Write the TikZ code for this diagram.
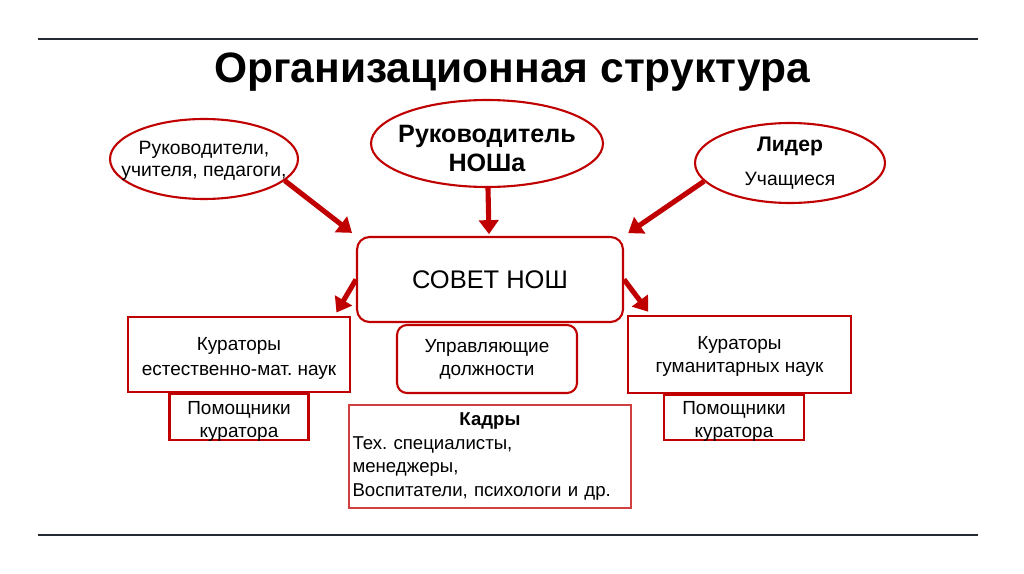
\documentclass[tikz,border=0pt]{standalone}
\usepackage{fontspec}
\setmainfont{Liberation Sans}
\frenchspacing
\usetikzlibrary{shapes.geometric, arrows.meta, positioning}
\definecolor{boxred}{HTML}{C00000}
\definecolor{thinred}{HTML}{D04040}
\definecolor{rulegray}{HTML}{262B33}

\begin{document}
\begin{tikzpicture}[
		x=0.02cm, y=-0.02cm,
		% pixel-like coordinates, y grows downwards
		redarrow/.style={-{Triangle[length=8pt, width=11pt]}, line width=2.9pt, boxred},
		oval/.style={ellipse, draw=boxred, line width=1.2pt, align=center, inner xsep=-1cm, inner ysep=-0.3cm, font=\fontsize{11}{13}\selectfont},
		council/.style={rectangle, draw=boxred, line width=1.2pt, rounded corners=0.25cm, align=center},
		curbox/.style={rectangle, draw=boxred, line width=1.2pt, align=center, inner xsep=0pt, inner ysep=-0.2cm, font=\fontsize{10.8}{13}\selectfont},
		helpbox/.style={curbox, text height=25.8pt, text depth=3pt},
		rulerline/.style={line width=1.2pt, rulegray}
		]
		
		\useasboundingbox (0,0) rectangle (1024,574);
		\draw[rulerline] (38,39) -- (978,39);
		\draw[rulerline] (38,535) -- (978,535);
		
		\node[font=\bfseries\fontsize{24.2}{28}\selectfont] (title) at (512,72) {Организационная структура};
		
		% top level
		\node[oval, minimum width=3.76cm, minimum height=1.6cm, text height=23.4pt, text depth=3pt] (teachers) at (204,159) {Руководители,\\учителя, педагоги,};
		\node[oval, minimum width=4.64cm, minimum height=1.74cm, text height=35.4pt, text depth=3pt, font=\bfseries\fontsize{14.3}{16.5}\selectfont] (head) at (487,143.5) {Руководитель\\НОШа};
		\node[oval, minimum width=3.8cm, minimum height=1.6cm] (lead) at (790,163) {{\bfseries\fontsize{12}{14}\selectfont Лидер}\\[6pt]Учащиеся};
		
		% middle level
		\node[council, minimum width=5.32cm, minimum height=1.7cm, font=\fontsize{14.5}{17}\selectfont] (sovet) at (490,279.5) {СОВЕТ НОШ};
		\node[council, rounded corners=0.2cm, minimum width=3.6cm, minimum height=1.36cm, font=\fontsize{10.8}{13}\selectfont] (posts) at (487,359) {Управляющие\\должности};
		
		% curators and helpers
		\node[curbox, minimum width=4.44cm, minimum height=1.5cm, text height=27.4pt, text depth=3pt, font=\fontsize{10.8}{14.2}\selectfont] (curA) at (239,354.5) {Кураторы\\естественно-мат. наук};
		\node[helpbox, minimum width=2.78cm, minimum height=0.92cm, below=0pt of curA] (helpA) {Помощники\\куратора};
		\node[curbox, minimum width=4.46cm, minimum height=1.54cm, text height=23pt, text depth=3pt] (curB) at (739.5,354.5) {Кураторы\\гуманитарных наук};
		\node[helpbox, minimum width=2.8cm, minimum height=0.9cm, below=0pt of curB, xshift=-0.11cm] (helpB) {Помощники\\куратора};
		
		% staff
		\node[rectangle, draw=thinred, line width=0.6pt, minimum width=5.64cm, minimum height=2.06cm, text width=5.5cm, align=left, inner sep=2pt, font=\fontsize{10.6}{13.6}\selectfont] (staff) at (490,456.5) {\makebox[\linewidth]{\textbf{Кадры}}\\Тех. специалисты,\\менеджеры,\\Воспитатели, психологи и др.};
		
		\draw[redarrow, shorten >=1pt] (head) -- (sovet);
		\draw[redarrow, shorten >=0.1cm] (teachers.-15) -- (sovet.north west);
		\draw[redarrow, shorten >=0.1cm] (lead.-168) -- (sovet.north east);
		\draw[redarrow, shorten >=0.08cm] (sovet.west) -- (curA.22);
		\draw[redarrow, shorten >=0.08cm] (sovet.east) -- (curB.156);
		
	\end{tikzpicture}
\end{document}
